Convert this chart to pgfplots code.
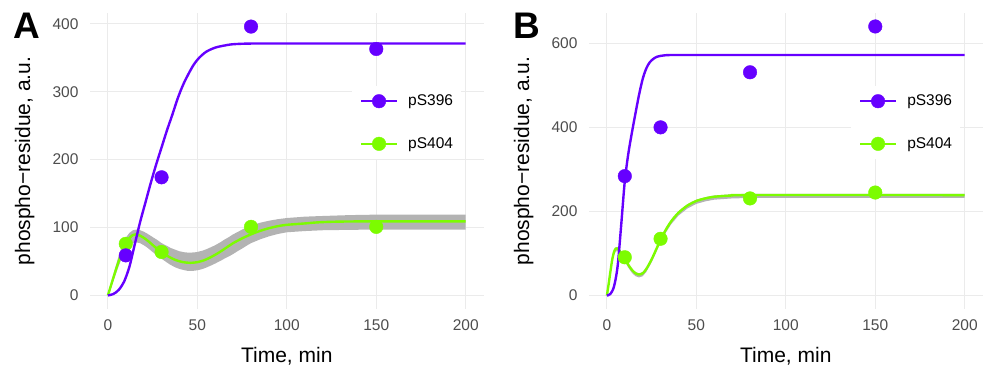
\documentclass[border=0pt]{standalone}
\usepackage{fontspec}
\setmainfont{Liberation Sans}
\usepackage{pgfplots}
\pgfplotsset{compat=1.18}
\definecolor{purp}{RGB}{102,0,255}
\definecolor{lgreen}{RGB}{124,252,0}
\definecolor{bandc}{RGB}{179,179,179}
\definecolor{gridc}{RGB}{235,235,235}
\definecolor{tickc}{RGB}{77,77,77}
\pgfplotsset{
 legend image code/.code={\draw[mark repeat=2,mark phase=2,#1] plot coordinates {(0bp,0bp) (18bp,0bp) (36bp,0bp)};},
}
\pgfplotsset{
 panel/.style={
  scale only axis, width=393.6bp, height=296bp,
  xmin=-10, xmax=210, xtick={0,50,100,150,200},
  axis line style={draw=none}, major tick length=0pt,
  grid=major, major grid style={gridc, line width=1.1bp},
  tick label style={font=\fontsize{15.5bp}{18bp}\selectfont, text=tickc},
  /pgf/number format/assume math mode=true,
  xticklabel style={yshift=-7.5bp},
  yticklabel style={xshift=-8bp},
  every axis x label/.style={at={(axis description cs:0.5,-0.1814)}, anchor=base, font=\fontsize{21bp}{24bp}\selectfont},
  every axis y label/.style={at={(axis description cs:-0.1524,0.5)}, rotate=90, anchor=base, font=\fontsize{21bp}{24bp}\selectfont},
  xlabel={Time, min}, ylabel={phospho−residue, a.u.},
  legend style={at={(0.804,0.630)}, anchor=center, fill=white, draw=none,
    font=\fontsize{15.5bp}{18bp}\selectfont, inner sep=8bp, row sep=29bp,
    nodes={inner sep=0pt},
    /tikz/every odd column/.append style={column sep=10bp}},
  legend cell align=left,
 },
 curve/.style={line width=2.4bp, line join=round, smooth, forget plot},
 band/.style={fill=bandc, draw=none, forget plot},
 pts/.style={only marks, mark=*, mark size=6.8bp, mark options={line width=0.4bp}, forget plot},
 lgimg/.style={line width=2.4bp, mark=*, mark size=6.8bp, mark options={line width=0.4bp}},
}
\begin{document}
\begin{tikzpicture}
\useasboundingbox (0,0) rectangle (989bp,368bp);
% ---------------- Panel A ----------------
\begin{axis}[panel, at={(90bp,59bp)}, anchor=south west,
  ymin=-20, ymax=416, ytick={0,100,200,300,400}]
\addplot[band] coordinates {
(0,0) (2,21) (4,40) (6,58) (8,74) (10,85) (12,92) (14,96) (16,97) (18,96) (20,94) (22,91) (25,86) (28,81) (30,77) (33,73) (35,70) (38,67) (40,65) (43,63.5) (45,63) (48,63.3) (50,64) (53,66) (55,68) (58,71.5) (60,74) (63,78.5) (65,82) (68,86.5) (70,90) (73,94) (75,97) (78,100.5) (80,103) (85,107) (90,110) (95,112.3) (100,114) (110,116) (120,117) (135,118.3) (150,119) (200,119)
(200,97) (150,97) (135,96.6) (120,96) (110,94.8) (100,93) (95,90.5) (90,87) (85,82.5) (80,77) (78,74) (75,69) (73,66) (70,61) (68,58) (65,54) (63,51) (60,47) (58,44.5) (55,41) (53,39) (50,37) (48,36.3) (45,36) (43,37) (40,39) (38,41) (35,45) (33,48.5) (30,54) (28,57.5) (25,64) (22,70.5) (20,74) (18,77) (16,78) (14,77) (12,73) (10,66) (8,56) (6,43) (4,28) (2,13) (0,0)};
\addplot[curve, lgreen] coordinates {
(0,0) (2,17) (4,34) (6,50) (8,64) (10,76) (12,84) (14,89) (16,90) (18,88) (20,85) (23,79) (26,72) (30,64) (34,57) (38,52) (42,49) (46,48) (50,49) (54,52) (58,57) (62,63) (66,70) (70,77) (75,84) (80,90) (85,95) (90,99) (95,102) (100,104) (110,106) (120,108) (140,109) (200,109)};
\addplot[curve, purp] coordinates {
(0,0) (3,2) (6,8) (9,20) (12,42) (15,75) (18,108) (21,137) (24,166) (27,193) (30,218) (33,243) (36,266) (39,290) (42,310) (45,326) (48,340) (51,350) (55,359) (60,365) (65,368) (70,370) (80,371) (100,371) (200,371)};
\addplot[pts, lgreen] coordinates {(10,76) (30,64) (80,101) (150,101)};
\addplot[pts, purp] coordinates {(10,59) (30,174) (80,396) (150,363)};
\addlegendimage{lgimg, purp}
\addlegendentry{pS396}
\addlegendimage{lgimg, lgreen}
\addlegendentry{pS404}
\end{axis}
% ---------------- Panel B ----------------
\begin{axis}[panel, at={(589bp,59bp)}, anchor=south west,
  ymin=-32, ymax=672, ytick={0,200,400,600}]
\addplot[band] coordinates {
(0,0) (1,31) (2,61) (3,89) (4,107) (5,115) (6,115) (7,110) (8,103) (10,91) (12,76) (14,64) (16,56) (18,53) (20,56) (22,66) (25,89) (28,117) (30,136) (33,160) (36,180) (40,200) (45,217) (50,228) (55,234) (60,238) (70,241) (80,242) (200,242)
(200,232) (80,232) (70,231) (60,228) (55,224) (50,218) (45,207) (40,190) (36,170) (33,150) (30,126) (28,107) (25,79) (22,56) (20,46) (18,43) (16,46) (14,54) (12,66) (10,81) (8,93) (7,100) (6,105) (5,105) (4,97) (3,79) (2,51) (1,21) (0,0)};
\addplot[curve, lgreen] coordinates {
(0,0) (1,28) (2,58) (3,86) (4,104) (5,112) (6,112) (7,107) (8,100) (10,88) (12,73) (14,61) (16,53) (18,50) (20,53) (22,63) (25,86) (28,114) (30,133) (33,157) (36,177) (40,197) (45,214) (50,225) (55,231) (60,235) (70,238) (80,239) (200,239)};
\addplot[curve, purp] coordinates {
(0,0) (2,4) (4,22) (6,70) (8,168) (10,272) (12,338) (14,388) (16,434) (18,478) (20,515) (22,540) (24,555) (26,563) (28,568) (30,570) (35,572) (50,572) (200,572)};
\addplot[pts, lgreen] coordinates {(10,91) (30,135) (80,231) (150,245)};
\addplot[pts, purp] coordinates {(10,284) (30,400) (80,531) (150,640)};
\addlegendimage{lgimg, purp}
\addlegendentry{pS396}
\addlegendimage{lgimg, lgreen}
\addlegendentry{pS404}
\end{axis}
\node[anchor=base west, font=\fontsize{37bp}{40bp}\selectfont\bfseries, inner sep=0pt] at (13bp,329.7bp) {A};
\node[anchor=base west, font=\fontsize{37bp}{40bp}\selectfont\bfseries, inner sep=0pt] at (513bp,329.7bp) {B};
\end{tikzpicture}
\end{document}
